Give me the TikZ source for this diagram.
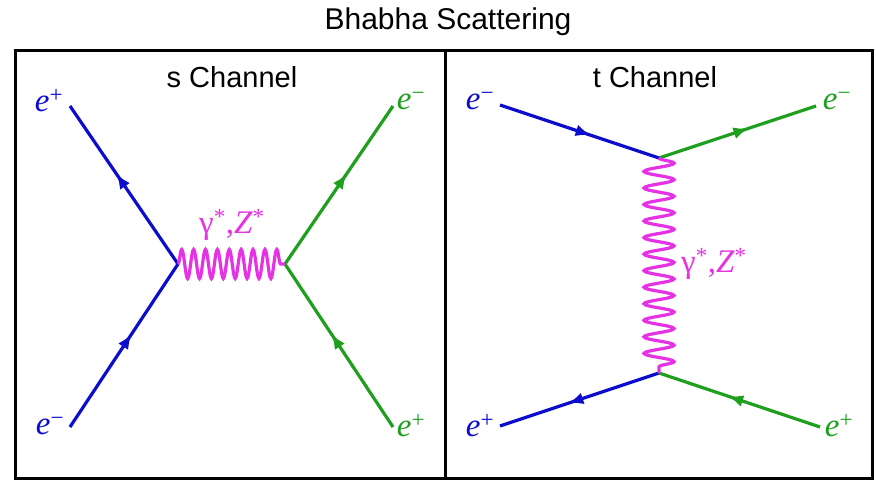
\documentclass[tikz,border=0pt]{standalone}
\usepackage{fontspec}
\setmainfont{Liberation Serif}
\newfontfamily\helv{Liberation Sans}
\usepackage{xcolor}
\usepackage{tikz}
\usetikzlibrary{arrows.meta, positioning, decorations.markings, decorations.pathmorphing}
\definecolor{eblue}{RGB}{12,12,205}
\definecolor{egreen}{RGB}{30,160,30}
\definecolor{bosonpink}{RGB}{228,50,228}
\tikzstyle{fermion} = [line width=3.2pt,
postaction={decorate},
decoration={markings,
mark=at position 0.57 with {\arrow{Latex[length=15pt,width=12pt]}}}]
\tikzstyle{photon} = [line width=3.2pt,
draw=bosonpink,
decorate,
decoration={snake, amplitude=14.5pt, segment length=11.89pt}]
\tikzstyle{photonlong} = [photon,
decoration={snake, amplitude=15pt, segment length=16.54pt}]
\tikzstyle{frame} = [line width=3pt, draw=black]
\tikzstyle{lbl} = [font=\fontsize{33}{33}\selectfont, inner sep=0pt]
\tikzstyle{heading} = [font=\helv\fontsize{29}{29}\selectfont, inner sep=0pt]
\newcommand{\epart}[1]{\textit{e}\textsuperscript{#1}}

\begin{document}
\begin{tikzpicture}[x=1pt, y=-1pt]
                \useasboundingbox (0,0) rectangle (876,480);
                % frame and headings
                \draw [frame] (15,50) rectangle (872,478);
                \draw [frame] (445,50) -- (445,478);
                \node (title) [heading, font=\helv\fontsize{30}{30}\selectfont] at (448,22) {Bhabha Scattering};
                \node (shead) [heading] at (232,77) {s Channel};
                \node (thead) [heading] at (655,77) {t Channel};

                % s channel
                \coordinate (sv1) at (178,264);
                \coordinate (sv2) at (285,264);
                \coordinate (sa) at (70,106);
                \coordinate (sb) at (70,427);
                \coordinate (sc) at (393,106);
                \coordinate (sd) at (393,427);
                \draw [fermion, eblue] (sv1) -- (sa);
                \draw [fermion, eblue] (sb) -- (sv1);
                \draw [fermion, egreen] (sv2) -- (sc);
                \draw [fermion, egreen] (sd) -- (sv2);
                \draw [photon] (sv1) -- (sv2);
                \node (sea) [lbl, eblue] at (49,101) {\epart{+}};
                \node (seb) [lbl, eblue] at (50,426) {\epart{−}};
                \node (sec) [lbl, egreen] at (411,101) {\epart{−}};
                \node (sed) [lbl, egreen] at (411,426) {\epart{+}};
                \node (slab) [lbl, bosonpink] at (232,225) {γ\textsuperscript{*},\textit{Z}\textsuperscript{*}};

                % t channel
                \coordinate (tv1) at (659,158);
                \coordinate (tv2) at (659,373);
                \coordinate (ta) at (500,105);
                \coordinate (tb) at (500,426);
                \coordinate (tc) at (816,106);
                \coordinate (td) at (820,427);
                \draw [fermion, eblue] (ta) -- (tv1);
                \draw [fermion, eblue] (tv2) -- (tb);
                \draw [fermion, egreen] (tv1) -- (tc);
                \draw [fermion, egreen] (td) -- (tv2);
                \draw [photonlong] (tv1) -- (tv2);
                \node (tea) [lbl, eblue] at (480,101) {\epart{−}};
                \node (teb) [lbl, eblue] at (480,426) {\epart{+}};
                \node (tec) [lbl, egreen] at (837,101) {\epart{−}};
                \node (ted) [lbl, egreen] at (839,426) {\epart{+}};
                \node (tlab) [lbl, bosonpink, anchor=west] at (681,264) {γ\textsuperscript{*},\textit{Z}\textsuperscript{*}};
            \end{tikzpicture}
\end{document}
